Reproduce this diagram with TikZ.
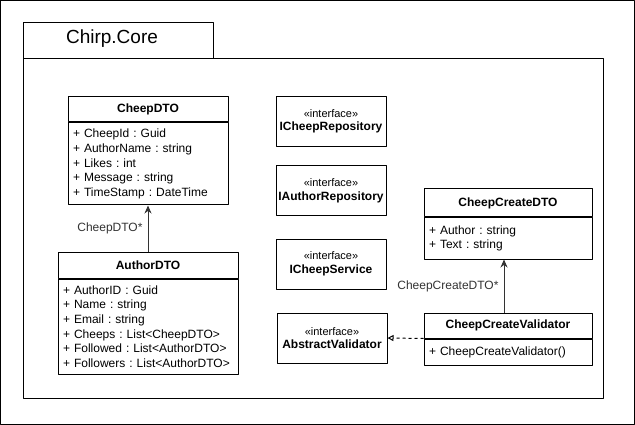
\documentclass[tikz,border=0pt]{standalone}
\usepackage{fontspec}
\setmainfont{Liberation Sans}
\usetikzlibrary{arrows.meta}
\usetikzlibrary{positioning}
\frenchspacing

\begin{document}
\begin{tikzpicture}[x=1pt,y=-1pt,line join=round,line width=1pt,
  head/.style={draw,inner sep=0pt,font=\fontsize{12}{14}\selectfont\bfseries},
  body/.style={draw,inner xsep=5pt,inner ysep=0pt,align=left,font=\fontsize{12}{14.6}\selectfont},
  iface/.style={draw,minimum width=110pt,minimum height=50pt,inner sep=0pt,align=center,font=\fontsize{12}{13.5}\selectfont},
  assoc/.style={draw=black!80,-{Stealth[length=8pt,width=7pt]}},
  realize/.style={draw=black,dash pattern=on 3pt off 3pt,-{Triangle[open,length=6pt,width=6pt]}},
  lbl/.style={font=\fontsize{12}{14}\selectfont,text=black!80,inner sep=5pt}]
\useasboundingbox (0,0) rectangle (635,425);
\draw (0.5,0.5) rectangle (634.5,424.5);

% package
\draw (23,23) rectangle (213,59);
\draw (23,59) rectangle (603,398);
\node[font=\fontsize{19}{22}\selectfont] (pkg) at (112,39) {Chirp.Core};

% classes
\node[head,minimum width=160pt,minimum height=25pt] (cheephead) at (148,109.5) {CheepDTO};
\node[body,below=0pt of cheephead,text width=150pt,minimum height=82pt] (cheepbody)
  {+ CheepId : Guid\\+ AuthorName : string\\+ Likes : int\\+ Message : string\\+ TimeStamp : DateTime};

\node[head,minimum width=180pt,minimum height=26pt] (authhead) at (148,265) {AuthorDTO};
\node[body,below=0pt of authhead,text width=170pt,minimum height=95pt] (authbody)
  {+ AuthorID : Guid\\+ Name : string\\+ Email : string\\+ Cheeps : List<CheepDTO>\\+ Followed : List<AuthorDTO>\\+ Followers : List<AuthorDTO>};

\node[head,minimum width=168pt,minimum height=28pt] (cchead) at (508,203) {CheepCreateDTO};
\node[body,below=0pt of cchead,text width=158pt,minimum height=41pt] (ccbody)
  {+ Author : string\\+ Text : string\\[-3pt]};

\node[head,minimum width=168pt,minimum height=25pt] (cvhead) at (508,325.5) {CheepCreateValidator};
\node[body,below=0pt of cvhead,text width=158pt,minimum height=26pt] (cvbody)
  {+ CheepCreateValidator()};

% interfaces
\node[iface] (icrepo) at (331,121.5) {{\fontsize{11}{13}\selectfont «interface»}\\\textbf{ICheepRepository}};
\node[iface] (iarepo) at (331,191) {{\fontsize{11}{13}\selectfont «interface»}\\\textbf{IAuthorRepository}};
\node[iface] (icserv) at (331,264) {{\fontsize{11}{13}\selectfont «interface»}\\\textbf{ICheepService}};
\node[iface] (absval) at (332,338) {{\fontsize{11}{13}\selectfont «interface»}\\\textbf{AbstractValidator}};

% connectors
\draw[assoc] (authhead.north) -- (cheepbody.south) node[lbl,midway,left] {CheepDTO*};
\draw[assoc] ([xshift=-4pt]cvhead.north) -- ([xshift=-4pt]ccbody.south) node[lbl,midway,left] {CheepCreateDTO*};
\draw[realize] (cvhead.south west) -- (absval.east);
\end{tikzpicture}
\end{document}
